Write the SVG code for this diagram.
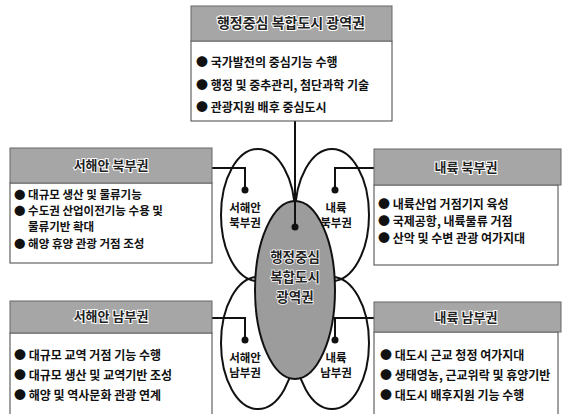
<svg xmlns="http://www.w3.org/2000/svg" width="566" height="414" viewBox="0 0 566 414">
<style>
.hdr{fill:#a6a6a6;stroke:#666;stroke-width:1}
.body{fill:#fff;stroke:#444;stroke-width:1}
.ht{font-family:"Noto Sans CJK KR",sans-serif;font-size:13px;font-weight:bold;fill:#222;stroke:#fff;stroke-width:2;paint-order:stroke;text-anchor:middle}
.bt{font-family:"Noto Sans CJK KR",sans-serif;font-size:12px;font-weight:bold;fill:#111}
.bs{font-size:11.5px}
.el{fill:none;stroke:#111;stroke-width:2}
.ct{font-family:"Noto Sans CJK KR",sans-serif;font-size:11.5px;font-weight:bold;fill:#111;text-anchor:middle}
.cc{font-family:"Noto Sans CJK KR",sans-serif;font-size:13.5px;font-weight:bold;fill:#222;stroke:#fff;stroke-width:1.5;paint-order:stroke;text-anchor:middle}
.ln{fill:none;stroke:#111;stroke-width:2}
.dot{fill:#111}
</style>
<rect width="566" height="414" fill="#fff"/>
<g id="ellipses">
<ellipse class="el" cx="258" cy="215" rx="37" ry="66"/>
<ellipse class="el" cx="332" cy="215" rx="37" ry="66"/>
<ellipse class="el" cx="258" cy="343" rx="37" ry="66"/>
<ellipse class="el" cx="332" cy="343" rx="37" ry="66"/>
</g>
<g id="center">
<ellipse cx="295" cy="290" rx="40" ry="89" fill="#9c9c9c" stroke="#111" stroke-width="2"/>
<text class="cc" x="295" y="262">행정중심</text>
<text class="cc" x="295" y="282">복합도시</text>
<text class="cc" x="295" y="302">광역권</text>
</g>
<g id="connectors">
<path class="ln" d="M295 121 V227"/>
<circle class="dot" cx="295" cy="227" r="3.5"/>
<path class="ln" d="M212 168 H245 V190"/>
<circle class="dot" cx="245" cy="190" r="3.5"/>
<path class="ln" d="M374 168 H335 V190"/>
<circle class="dot" cx="335" cy="190" r="3.5"/>
<path class="ln" d="M212 318 H245 V340"/>
<circle class="dot" cx="245" cy="340" r="3.5"/>
<path class="ln" d="M374 318 H335 V340"/>
<circle class="dot" cx="335" cy="340" r="3.5"/>
</g>
<g id="labels">
<text class="ct" x="245" y="212">서해안</text>
<text class="ct" x="245" y="227">북부권</text>
<text class="ct" x="336" y="212">내륙</text>
<text class="ct" x="336" y="227">북부권</text>
<text class="ct" x="245" y="362">서해안</text>
<text class="ct" x="245" y="377">남부권</text>
<text class="ct" x="336" y="362">내륙</text>
<text class="ct" x="336" y="377">남부권</text>
</g>
<g id="top">
<rect class="body" x="191" y="41" width="201" height="80"/>
<rect class="hdr" x="191" y="6" width="201" height="35"/>
<text class="ht" x="291" y="28" style="font-size:14px">행정중심 복합도시 광역권</text>
<text class="bt" x="196" y="67">● 국가발전의 중심기능 수행</text>
<text class="bt" x="196" y="90">● 행정 및 중추관리, 첨단과학 기술</text>
<text class="bt" x="196" y="112">● 관광지원 배후 중심도시</text>
</g>
<g id="west-north">
<rect class="body" x="10" y="183" width="202" height="80"/>
<rect class="hdr" x="10" y="148" width="202" height="35"/>
<text class="ht" x="111" y="170">서해안 북부권</text>
<text class="bt bs" x="14" y="199">● 대규모 생산 및 물류기능</text>
<text class="bt bs" x="14" y="215">● 수도권 산업이전기능 수용 및</text>
<text class="bt bs" x="28" y="231">물류기반 확대</text>
<text class="bt bs" x="14" y="248">● 해양 휴양 관광 거점 조성</text>
</g>
<g id="inland-north">
<rect class="body" x="374" y="185" width="184" height="80"/>
<rect class="hdr" x="374" y="149" width="187" height="36"/>
<text class="ht" x="466" y="172">내륙 북부권</text>
<text class="bt" x="378" y="209">● 내륙산업 거점기지 육성</text>
<text class="bt" x="378" y="226">● 국제공항, 내륙물류 거점</text>
<text class="bt" x="378" y="243">● 산악 및 수변 관광 여가지대</text>
</g>
<g id="west-south">
<rect class="body" x="10" y="333" width="202" height="90"/>
<rect class="hdr" x="10" y="301" width="202" height="32"/>
<text class="ht" x="111" y="321">서해안 남부권</text>
<text class="bt" x="14" y="360">● 대규모 교역 거점 기능 수행</text>
<text class="bt" x="14" y="380">● 대규모 생산 및 교역기반 조성</text>
<text class="bt" x="14" y="400">● 해양 및 역사문화 관광 연계</text>
</g>
<g id="inland-south">
<rect class="body" x="374" y="332" width="184" height="90"/>
<rect class="hdr" x="374" y="302" width="187" height="30"/>
<text class="ht" x="466" y="322">내륙 남부권</text>
<text class="bt" x="380" y="360">● 대도시 근교 청정 여가지대</text>
<text class="bt" x="380" y="380">● 생태영농, 근교위락 및 휴양기반</text>
<text class="bt" x="380" y="400">● 대도시 배후지원 기능 수행</text>
</g>
</svg>
